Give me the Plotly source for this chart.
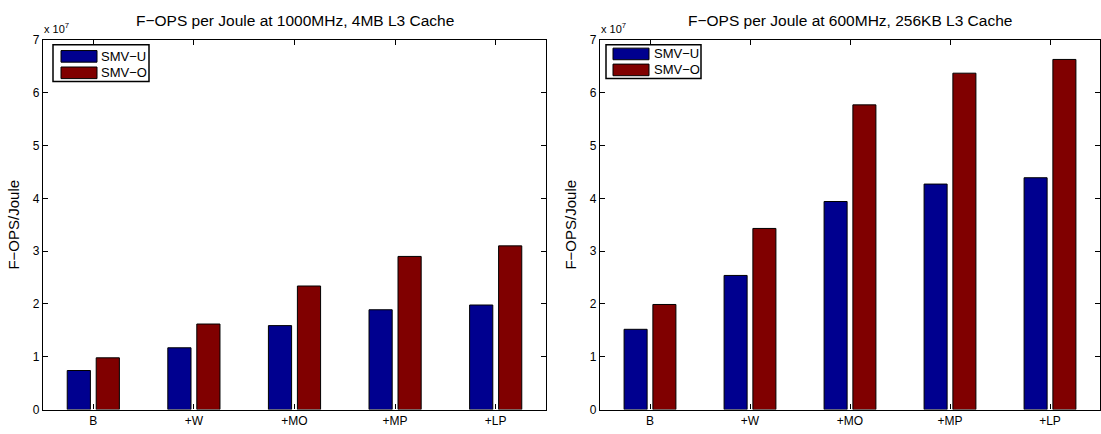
import plotly.graph_objects as go

# Configurations compared on each chart
categories = ["B", "+W", "+MO", "+MP", "+LP"]

# F-OPS per Joule, 1000MHz with 4MB L3 cache
fast_smv_u = [0.74e7, 1.17e7, 1.59e7, 1.89e7, 1.98e7]
fast_smv_o = [0.98e7, 1.62e7, 2.34e7, 2.90e7, 3.10e7]

# F-OPS per Joule, 600MHz with 256KB L3 cache
slow_smv_u = [1.52e7, 2.54e7, 3.94e7, 4.27e7, 4.39e7]
slow_smv_o = [1.99e7, 3.43e7, 5.77e7, 6.37e7, 6.63e7]

series_names = ["SMV−U", "SMV−O"]
series_colors = ["#00008F", "#800000"]
y_tick_vals = [0, 1e7, 2e7, 3e7, 4e7, 5e7, 6e7, 7e7]
y_tick_text = ["0", "1", "2", "3", "4", "5", "6", "7"]
titles = [
    "F−OPS per Joule at 1000MHz, 4MB L3 Cache",
    "F−OPS per Joule at 600MHz, 256KB L3 Cache",
]

W, H = 1101, 434
FONT = "Liberation Sans, Arial, Helvetica, sans-serif"

# pixel frame of each axes box: (left, right), shared (top, bottom)
panels = [(43, 546), (600, 1100)]
top_px, bottom_px = 34, 416

# legend layout per panel, offsets in px from the axes' left edge
legend_boxes = [
    dict(box=(10, 106), box_y=(39, 77), sw=(18, 54), rows=(51, 68), text=56),
    dict(box=(6, 101), box_y=(39, 74), sw=(13, 49), rows=(48.5, 65), text=52),
]


def px_x(p):
    return p / W


def px_y(p):
    return 1 - p / H


fig = go.Figure()

datasets = [(fast_smv_u, fast_smv_o), (slow_smv_u, slow_smv_o)]
for i, (u_vals, o_vals) in enumerate(datasets):
    xa = "x" if i == 0 else "x2"
    ya = "y" if i == 0 else "y2"
    for name, vals, color in zip(series_names, (u_vals, o_vals), series_colors):
        fig.add_trace(go.Bar(
            x=categories, y=vals, name=name, xaxis=xa, yaxis=ya,
            marker=dict(color=color, line=dict(color="black", width=1)),
            showlegend=False,
        ))

axis_common = dict(
    showline=True, linecolor="black", linewidth=1.2, mirror="allticks",
    ticks="inside", ticklen=5, tickcolor="black", tickwidth=1,
    showgrid=False, zeroline=False,
    tickfont=dict(family=FONT, size=12, color="black"),
)

for i, (left, right) in enumerate(panels):
    sx = "" if i == 0 else "2"
    fig.update_layout({
        f"xaxis{sx}": dict(
            axis_common, domain=[px_x(left), px_x(right)],
            anchor=f"y{sx}", type="category", range=[-0.5, 4.5],
        ),
        f"yaxis{sx}": dict(
            axis_common, domain=[px_y(bottom_px), px_y(top_px)],
            anchor=f"x{sx}", range=[0, 7e7],
            tickvals=y_tick_vals, ticktext=y_tick_text,
            title=dict(text="F−OPS/Joule", standoff=9,
                       font=dict(family=FONT, size=15, color="black")),
        ),
    })

    # chart title
    fig.add_annotation(
        x=px_x((left + right) / 2), y=px_y(14), xref="paper", yref="paper",
        text=titles[i], showarrow=False, xanchor="center", yanchor="middle",
        font=dict(family=FONT, size=15.5, color="black"),
    )
    # exponent multiplier above the y axis
    fig.add_annotation(
        x=px_x(left - 1), y=px_y(31), xref="paper", yref="paper",
        text="x 10<sup>7</sup>", showarrow=False, xanchor="left", yanchor="bottom",
        font=dict(family=FONT, size=11, color="black"),
    )

    # boxed legend in the upper-left corner
    lg = legend_boxes[i]
    fig.add_shape(
        type="rect", xref="paper", yref="paper",
        x0=px_x(left + lg["box"][0]), x1=px_x(left + lg["box"][1]),
        y0=px_y(lg["box_y"][0]), y1=px_y(lg["box_y"][1]),
        line=dict(color="black", width=1.5), fillcolor="white",
    )
    for k, (name, color) in enumerate(zip(series_names, series_colors)):
        cy = lg["rows"][k]
        fig.add_shape(
            type="rect", xref="paper", yref="paper",
            x0=px_x(left + lg["sw"][0]), x1=px_x(left + lg["sw"][1]),
            y0=px_y(cy - 6), y1=px_y(cy + 6),
            line=dict(color="black", width=1), fillcolor=color,
        )
        fig.add_annotation(
            x=px_x(left + lg["text"]), y=px_y(cy), xref="paper", yref="paper",
            text=name, showarrow=False, xanchor="left", yanchor="middle",
            font=dict(family=FONT, size=13, color="black"),
        )

fig.update_layout(
    width=W, height=H, autosize=False,
    margin=dict(l=0, r=0, t=0, b=0),
    paper_bgcolor="white", plot_bgcolor="white",
    barmode="group", bargap=0.424, bargroupgap=0.2,
    font=dict(family=FONT, color="black"),
)

fig.write_html("out.html")
